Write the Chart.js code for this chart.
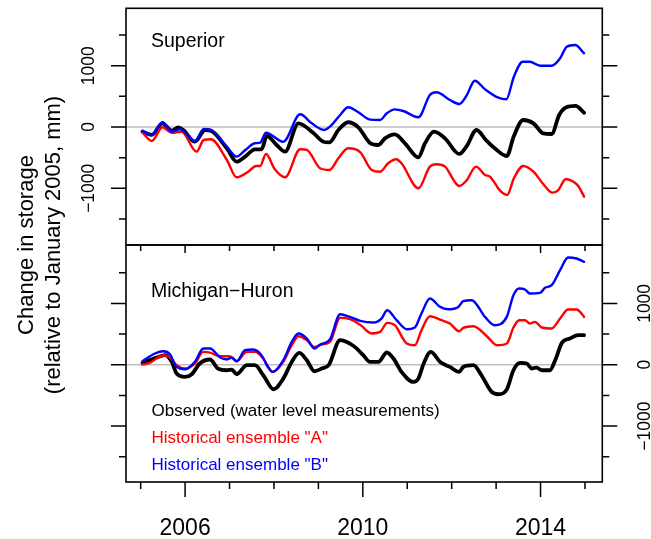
<!DOCTYPE html>
<html>
<head>
<meta charset="utf-8">
<script src="https://cdn.jsdelivr.net/npm/chart.js@4.4.1/dist/chart.umd.min.js"></script>
<style>
html, body { margin: 0; padding: 0; background: #fff; }
#wrap { position: relative; width: 651px; height: 539px; overflow: hidden; background: #fff; }
#wrap canvas { position: absolute; left: 0; top: 0; }
</style>
</head>
<body>
<div id="wrap">
  <canvas id="lower" width="651" height="539"></canvas>
  <canvas id="upper" width="651" height="539"></canvas>
</div>
<script>
// Axis ticks and labels
const yearTicks = [2005, 2006, 2007, 2008, 2009, 2010, 2011, 2012, 2013, 2014, 2015];
const yearLabels = [2006, 2010, 2014];
const storageTicks = [-1500, -1000, -500, 0, 500, 1000, 1500];
const storageLabels = [-1000, 0, 1000];

const seriesNames = ['Observed (water level measurements)', 'Historical ensemble "A"', 'Historical ensemble "B"'];
const panelNames = ['Superior', 'Michigan\u2212Huron'];

// Lake Superior: change in storage (mm) at decimal-year times
const supObsT = [2005.04, 2005.25, 2005.49, 2005.70, 2005.85, 2005.96, 2006.22, 2006.45, 2006.58, 2006.94, 2007.16, 2007.35, 2007.57, 2007.72, 2007.84, 2008.06, 2008.25, 2008.55, 2008.88, 2009.11, 2009.25, 2009.45, 2009.67, 2009.90, 2010.16, 2010.35, 2010.50, 2010.72, 2010.95, 2011.25, 2011.40, 2011.60, 2011.85, 2012.17, 2012.33, 2012.56, 2012.77, 2012.97, 2013.24, 2013.40, 2013.61, 2013.84, 2014.06, 2014.25, 2014.42, 2014.58, 2014.79, 2014.98];
const supObsV = [-77, -130, 60, -60, -5, -49, -240, -49, -60, -348, -566, -484, -364, -364, -147, -294, -402, 60, -93, -240, -250, -49, 77, -5, -260, -294, -185, -120, -266, -495, -266, -77, -185, -440, -321, -49, -212, -348, -473, -147, 114, 60, -103, -114, 196, 321, 343, 233];

const supAT = [2005.04, 2005.25, 2005.49, 2005.70, 2005.92, 2006.26, 2006.42, 2006.58, 2006.94, 2007.16, 2007.42, 2007.60, 2007.69, 2007.82, 2008.02, 2008.25, 2008.59, 2008.74, 2009.04, 2009.25, 2009.45, 2009.67, 2009.94, 2010.20, 2010.39, 2010.57, 2010.75, 2010.87, 2011.25, 2011.51, 2011.66, 2011.85, 2012.17, 2012.33, 2012.55, 2012.75, 2012.86, 2013.09, 2013.25, 2013.40, 2013.61, 2013.84, 2014.06, 2014.27, 2014.40, 2014.57, 2014.74, 2014.85, 2014.98];
const supAV = [-93, -228, -5, -93, -77, -402, -212, -201, -538, -821, -729, -636, -636, -440, -690, -821, -364, -375, -674, -701, -511, -348, -410, -701, -729, -592, -527, -592, -1000, -647, -609, -647, -962, -876, -647, -783, -810, -1039, -1109, -837, -636, -729, -930, -1071, -1028, -848, -892, -962, -1137];

const supBT = [2005.04, 2005.25, 2005.49, 2005.70, 2005.88, 2006.22, 2006.42, 2006.58, 2006.94, 2007.16, 2007.35, 2007.57, 2007.69, 2007.82, 2008.21, 2008.59, 2008.85, 2009.13, 2009.26, 2009.49, 2009.67, 2009.90, 2010.16, 2010.39, 2010.54, 2010.72, 2010.91, 2011.25, 2011.51, 2011.66, 2011.96, 2012.17, 2012.33, 2012.52, 2012.75, 2013.05, 2013.23, 2013.40, 2013.60, 2013.76, 2013.99, 2014.25, 2014.44, 2014.59, 2014.78, 2014.98];
const supBV = [-60, -130, 77, -77, -38, -228, -33, -49, -321, -484, -380, -266, -256, -93, -240, 207, 60, -49, 5, 196, 321, 240, 120, 114, 223, 288, 261, 158, 522, 566, 440, 375, 506, 755, 615, 478, 452, 821, 1065, 1065, 1000, 1000, 1121, 1310, 1338, 1202];

// Lakes Michigan-Huron: change in storage (mm) at decimal-year times
const mhObsT = [2005.04, 2005.36, 2005.55, 2005.70, 2005.81, 2006.00, 2006.15, 2006.33, 2006.56, 2006.74, 2006.94, 2007.05, 2007.16, 2007.39, 2007.57, 2007.76, 2007.99, 2008.21, 2008.40, 2008.57, 2008.74, 2008.91, 2009.08, 2009.23, 2009.49, 2009.64, 2009.82, 2010.01, 2010.16, 2010.35, 2010.54, 2010.69, 2010.87, 2011.14, 2011.25, 2011.37, 2011.53, 2011.74, 2011.96, 2012.17, 2012.26, 2012.49, 2012.67, 2012.90, 2013.05, 2013.24, 2013.39, 2013.54, 2013.69, 2013.80, 2013.91, 2014.03, 2014.21, 2014.33, 2014.48, 2014.66, 2014.85, 2014.98];
const mhObsV = [29, 117, 155, 46, -144, -199, -155, 20, 85, -62, -90, -80, -155, -8, -8, -171, -400, -226, 46, 193, 73, -106, -62, -8, 400, 372, 291, 155, 46, 46, 199, 101, -117, -280, -226, 20, 209, 46, -36, -117, -36, -8, -171, -444, -481, -405, -90, 29, 20, -62, -46, -90, -90, 73, 356, 427, 481, 481];

const mhAT = [2005.04, 2005.20, 2005.51, 2005.66, 2005.81, 2006.00, 2006.22, 2006.41, 2006.56, 2006.79, 2007.00, 2007.16, 2007.39, 2007.57, 2007.76, 2007.97, 2008.21, 2008.40, 2008.55, 2008.74, 2008.91, 2009.08, 2009.26, 2009.49, 2009.71, 2009.94, 2010.20, 2010.39, 2010.55, 2010.72, 2010.99, 2011.17, 2011.32, 2011.51, 2011.77, 2011.96, 2012.17, 2012.26, 2012.49, 2012.79, 2013.02, 2013.24, 2013.39, 2013.52, 2013.65, 2013.76, 2013.87, 2014.03, 2014.25, 2014.44, 2014.62, 2014.81, 2014.89, 2014.98];
const mhAV = [3, 29, 155, 117, -8, -62, 20, 209, 198, 139, 139, 57, 209, 209, 101, -117, 46, 318, 465, 400, 291, 330, 372, 764, 742, 650, 509, 535, 682, 644, 346, 318, 563, 791, 726, 672, 546, 600, 628, 465, 318, 346, 607, 726, 726, 672, 698, 607, 591, 753, 900, 900, 862, 780];

const mhBT = [2005.04, 2005.32, 2005.51, 2005.66, 2005.81, 2006.00, 2006.22, 2006.41, 2006.56, 2006.79, 2006.94, 2007.05, 2007.16, 2007.35, 2007.53, 2007.72, 2007.84, 2007.97, 2008.21, 2008.40, 2008.55, 2008.74, 2008.91, 2009.04, 2009.26, 2009.49, 2009.71, 2009.94, 2010.24, 2010.42, 2010.55, 2010.76, 2010.99, 2011.17, 2011.32, 2011.51, 2011.74, 2011.92, 2012.15, 2012.26, 2012.45, 2012.75, 2012.97, 2013.24, 2013.39, 2013.52, 2013.65, 2013.76, 2013.99, 2014.10, 2014.25, 2014.44, 2014.62, 2014.81, 2014.98];
const mhBV = [57, 183, 220, 171, -36, -73, 46, 264, 264, 117, 85, 117, 57, 237, 248, 155, -8, -117, 73, 372, 509, 427, 264, 330, 411, 824, 780, 715, 688, 753, 889, 726, 579, 607, 835, 1080, 943, 905, 943, 1036, 1052, 780, 644, 780, 1134, 1243, 1227, 1161, 1171, 1253, 1297, 1542, 1749, 1732, 1677];

const seriesColors = ['#000000', '#ff0000', '#0000ff'];

const FONT = '"Liberation Sans", Arial, Helvetica, sans-serif';

function points(t, v) { return t.map((x, i) => ({ x: x, y: v[i] })); }
function fmt(v) { return v < 0 ? '\u2212' + Math.abs(v) : String(v); }

function makeDatasets(obsT, obsV, aT, aV, bT, bV) {
  const sets = [[obsT, obsV], [aT, aV], [bT, bV]];
  return sets.map((s, i) => ({
    label: seriesNames[i],
    data: points(s[0], s[1]),
    borderColor: seriesColors[i],
    borderWidth: i === 0 ? 3.8 : 2.4,
    pointRadius: 0,
    cubicInterpolationMode: 'monotone',
    borderJoinStyle: 'round',
    borderCapStyle: 'round',
    fill: false,
    order: 2 - i
  }));
}

// text rotated to read bottom-to-top, anchored on its baseline centre
function vText(ctx, txt, x, y, size, color) {
  ctx.save();
  ctx.translate(x, y);
  ctx.rotate(-Math.PI / 2);
  ctx.font = size + 'px ' + FONT;
  ctx.fillStyle = color;
  ctx.textAlign = 'center';
  ctx.textBaseline = 'alphabetic';
  ctx.fillText(txt, 0, 0);
  ctx.restore();
}

const panelFrame = {
  id: 'panelFrame',
  beforeDatasetsDraw(chart) {
    const { ctx, chartArea: a } = chart;
    const y = chart.scales.y;
    const y0 = y.getPixelForValue(0);
    ctx.save();
    ctx.strokeStyle = '#bebebe';
    ctx.lineWidth = 1.5;
    ctx.beginPath();
    ctx.moveTo(a.left, y0);
    ctx.lineTo(a.right, y0);
    ctx.stroke();
    ctx.restore();
  },
  afterDraw(chart, args, o) {
    const { ctx, chartArea: a } = chart;
    const x = chart.scales.x, y = chart.scales.y;
    ctx.save();
    ctx.strokeStyle = '#000';
    ctx.lineWidth = 1.6;
    ctx.lineCap = 'butt';
    ctx.strokeRect(a.left, a.top, a.right - a.left, a.bottom - a.top);

    // storage ticks on both sides
    const yt = (y.ticks && y.ticks.length) ? y.ticks.map(t => t.value) : storageTicks;
    ctx.lineWidth = 1.5;
    ctx.beginPath();
    yt.forEach(v => {
      const py = y.getPixelForValue(v);
      const len = v % 1000 === 0 ? 15 : 7;
      ctx.moveTo(a.left, py); ctx.lineTo(a.left - len, py);
      ctx.moveTo(a.right, py); ctx.lineTo(a.right + len, py);
    });
    // year ticks along the bottom edge
    const xt = (x.ticks && x.ticks.length) ? x.ticks.map(t => t.value) : yearTicks;
    xt.forEach(v => {
      const px = x.getPixelForValue(v);
      const major = yearLabels.includes(v);
      const len = o.outerX ? (major ? 15 : 7) : (major ? 8 : 6);
      ctx.moveTo(px, a.bottom); ctx.lineTo(px, a.bottom + len);
    });
    ctx.stroke();

    // storage labels
    storageLabels.forEach(v => {
      const py = y.getPixelForValue(v);
      vText(ctx, fmt(v), o.labelSide === 'left' ? 93.5 : 649.5, py, 17.5, '#000');
    });

    // year labels
    if (o.outerX) {
      ctx.font = '23px ' + FONT;
      ctx.fillStyle = '#000';
      ctx.textAlign = 'center';
      ctx.textBaseline = 'alphabetic';
      yearLabels.forEach(v => ctx.fillText(String(v), x.getPixelForValue(v), 534.5));
    }

    // panel name
    ctx.font = '19.5px ' + FONT;
    ctx.fillStyle = '#000';
    ctx.textAlign = 'left';
    ctx.textBaseline = 'alphabetic';
    ctx.fillText(o.name, 151, o.nameY);

    // series key
    if (o.key) {
      ctx.font = '17px ' + FONT;
      chart.data.datasets.forEach((d, i) => {
        ctx.fillStyle = d.borderColor;
        ctx.fillText(d.label, 151.5, 415.5 + i * 27);
      });
    }

    // shared vertical axis title
    if (o.title) {
      vText(ctx, 'Change in storage', 33, 245, 22, '#000');
      vText(ctx, '(relative to January 2005, mm)', 60, 245, 22, '#000');
    }
    ctx.restore();
  }
};

function makeChart(id, datasets, yMin, yMax, pad, frameOpts) {
  return new Chart(document.getElementById(id), {
    type: 'line',
    data: { datasets: datasets },
    options: {
      responsive: false,
      animation: false,
      devicePixelRatio: 1,
      layout: { padding: pad },
      scales: {
        x: {
          type: 'linear', min: 2004.67, max: 2015.39, display: false,
          afterBuildTicks: s => { s.ticks = yearTicks.map(v => ({ value: v })); }
        },
        y: {
          type: 'linear', min: yMin, max: yMax, display: false,
          afterBuildTicks: s => { s.ticks = storageTicks.map(v => ({ value: v })); }
        }
      },
      plugins: {
        legend: { display: false },
        tooltip: { enabled: false },
        panelFrame: frameOpts
      }
    },
    plugins: [panelFrame]
  });
}

makeChart('lower',
  makeDatasets(mhObsT, mhObsV, mhAT, mhAV, mhBT, mhBV),
  -1912, 1952,
  { left: 126, right: 48.7, top: 245, bottom: 57 },
  { name: panelNames[1], nameY: 297, labelSide: 'right', outerX: true, key: true, title: true });

makeChart('upper',
  makeDatasets(supObsT, supObsV, supAT, supAV, supBT, supBV),
  -1925, 1936,
  { left: 126, right: 48.7, top: 8.3, bottom: 294 },
  { name: panelNames[0], nameY: 46.5, labelSide: 'left', outerX: false, key: false, title: false });
</script>
</body>
</html>
